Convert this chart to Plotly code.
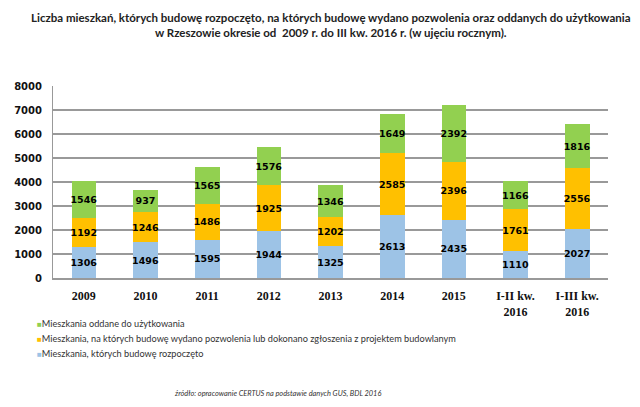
import plotly.graph_objects as go

categories = ["2009", "2010", "2011", "2012", "2013", "2014", "2015",
              "I-II kw.<br>2016", "I-III kw.<br>2016"]
rozpoczete = [1306, 1496, 1595, 1944, 1325, 2613, 2435, 1110, 2027]
pozwolenia = [1192, 1246, 1486, 1925, 1202, 2585, 2396, 1761, 2556]
oddane = [1546, 937, 1565, 1576, 1346, 1649, 2392, 1166, 1816]

names = ["Mieszkania, których budowę rozpoczęto",
         "Mieszkania, na których budowę wydano pozwolenia lub dokonano zgłoszenia z projektem budowlanym",
         "Mieszkania oddane do użytkowania"]
colors = ["#9DC3E6", "#FFC000", "#92D050"]
title_lines = ["Liczba mieszkań, których budowę rozpoczęto, na których budowę wydano pozwolenia oraz oddanych do użytkowania",
               "w Rzeszowie okresie od  2009 r. do III kw. 2016 r. (w ujęciu rocznym)."]

fig = go.Figure()
for vals, name, col in zip([rozpoczete, pozwolenia, oddane], names, colors):
    fig.add_trace(go.Bar(
        x=categories, y=vals, name=name, showlegend=False,
        marker=dict(color=col, line=dict(width=0)),
        text=vals, textposition="inside", insidetextanchor="middle",
        constraintext="none", textangle=0,
        textfont=dict(family="DejaVu Sans", size=9.5, color="black", weight="bold"),
    ))

# the page body has an 8px margin, so everything is laid out 8px up/left
notes = []
for i, line in enumerate(title_lines):
    notes.append(dict(
        text=line, xref="paper", yref="paper", x=0.5, y=1 + (69 - 16 * i) / 192.0,
        xanchor="center", yanchor="middle", showarrow=False,
        font=dict(family="Lato", size=11.5, color="#222222", weight="bold"),
    ))

# legend drawn as annotations: small square + label, green on top
for i, (name, col) in enumerate(zip(names[::-1], colors[::-1])):
    notes.append(dict(
        text='<span style="color:%s;font-size:8px">■</span>%s' % (col, name),
        xref="paper", yref="paper", x=-0.032, y=(270 - 315 - 15 * i) / 192.0,
        xanchor="left", yanchor="middle", showarrow=False,
        font=dict(family="Lato", size=9.2, color="#333333"),
    ))

notes.append(dict(
    text="źródło: opracowanie CERTUS na podstawie danych GUS, BDL 2016",
    xref="paper", yref="paper", x=0.405, y=-0.6, xanchor="center", yanchor="middle",
    showarrow=False, font=dict(family="Lato", size=7.4, color="#333333", style="italic"),
))

fig.update_layout(
    width=640, height=407,
    barmode="stack", bargap=0.6,
    plot_bgcolor="white", paper_bgcolor="white",
    margin=dict(l=45, r=40, t=78, b=137),
    showlegend=False,
    annotations=notes,
)
fig.update_yaxes(
    range=[0, 8000], dtick=1000, showgrid=True, gridcolor="#999999", gridwidth=2,
    showline=True, linecolor="#999999", linewidth=1, automargin=False,
    tickfont=dict(family="DejaVu Sans", size=10, color="#111111", weight="bold"),
    ticks="outside", ticklen=8, tickcolor="rgba(0,0,0,0)", zeroline=False,
)
fig.update_xaxes(
    showline=True, linecolor="#999999", linewidth=2, automargin=False,
    tickfont=dict(family="Liberation Serif", size=12, color="#111111", weight="bold"),
    ticks="outside", ticklen=6, tickcolor="rgba(0,0,0,0)",
)

fig.write_html("out.html")
